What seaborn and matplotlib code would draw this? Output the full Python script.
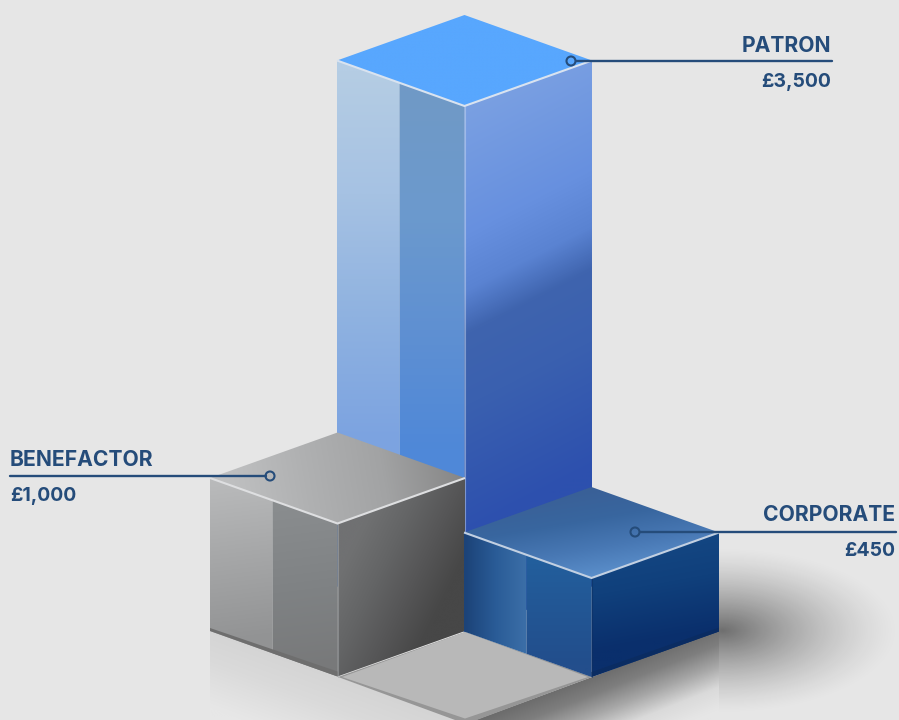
import matplotlib
matplotlib.use('Agg')
import matplotlib.pyplot as plt
from matplotlib.colors import LinearSegmentedColormap
from matplotlib.patches import Polygon
import numpy as np
import seaborn as sns

categories = ['PATRON', 'BENEFACTOR', 'CORPORATE']
values = [3500, 1000, 450]

# the boxes are not to a linear scale, so height comes from this lookup
scale_values = [0, 450, 1000, 3500]
scale_pixels = [0, 99, 153, 526]

BG = '#E6E6E6'
INK = '#254C7A'
HALF_W = 127.5
HALF_D = 45.5


def box_height(value):
    return float(np.interp(value, scale_values, scale_pixels))


def ramp(stops):
    return LinearSegmentedColormap.from_list('ramp', stops)


def grad_fill(ax, pts, stops, start, end, z):
    """Fill a polygon with a linear gradient running from start to end."""
    pts = np.array(pts, dtype=float)
    x0, y0 = np.floor(pts.min(axis=0)) - 1
    x1, y1 = np.ceil(pts.max(axis=0)) + 1
    xs, ys = np.meshgrid(np.arange(x0, x1 + 1), np.arange(y0, y1 + 1))
    d = np.array(end, dtype=float) - np.array(start, dtype=float)
    t = ((xs - start[0]) * d[0] + (ys - start[1]) * d[1]) / (d @ d)
    im = ax.imshow(np.clip(t, 0, 1), cmap=ramp(stops), vmin=0, vmax=1, extent=(x0, x1, y1, y0),
                   origin='upper', aspect='auto', zorder=z, interpolation='bilinear')
    im.set_clip_path(Polygon(pts, transform=ax.transData))


def draw_box(ax, fx, by, value, look, z):
    """fx, by is the front bottom corner of the box."""
    h = box_height(value)
    ty = by - h
    mx = fx - 65
    my = 65 * HALF_D / HALF_W
    left_in = [(mx, ty - my), (fx, ty), (fx, by), (mx, by - my)]
    left_out = [(fx - HALF_W, ty - HALF_D), (mx, ty - my), (mx, by - my), (fx - HALF_W, by - HALF_D)]
    right = [(fx, ty), (fx + HALF_W, ty - HALF_D), (fx + HALF_W, by - HALF_D), (fx, by)]
    top = [(fx, ty), (fx + HALF_W, ty - HALF_D), (fx, ty - 2 * HALF_D), (fx - HALF_W, ty - HALF_D)]

    grad_fill(ax, left_out, look['outer'], *look['outer_dir'], z)
    grad_fill(ax, left_in, look['inner'], *look['inner_dir'], z)
    grad_fill(ax, right, look['right'], *look['right_dir'], z)
    grad_fill(ax, top, look['top'], *look['top_dir'], z)

    # dark lip along the foot of the box
    if look.get('lip_l'):
        ax.add_patch(Polygon([(fx - HALF_W, by - HALF_D - 3), (fx, by - 5), (fx, by), (fx - HALF_W, by - HALF_D)],
                             fc=look['lip_l'], ec='none', zorder=z + 0.1))
    if look.get('lip_r'):
        ax.add_patch(Polygon([(fx, by - 5), (fx + HALF_W, by - HALF_D - 4), (fx + HALF_W, by - HALF_D), (fx, by)],
                             fc=look['lip_r'], ec='none', zorder=z + 0.1))
    ax.plot([fx, fx], [ty, by], color=look['edge'], lw=0.8, alpha=0.5, zorder=z + 0.2)
    ax.plot([fx - HALF_W, fx, fx + HALF_W], [ty - HALF_D, ty, ty - HALF_D], color=look['rim'], lw=1.5,
            solid_joinstyle='miter', solid_capstyle='butt', zorder=z + 0.3)


sns.set_theme(style='white')
plt.rcParams['font.family'] = ['Inter', 'DejaVu Sans']

fig = plt.figure(figsize=(8.99, 7.2), dpi=100, facecolor=BG)
ax = fig.add_axes([0, 0, 1, 1])
ax.set_facecolor(BG)
ax.set_xlim(0, 899)
ax.set_ylim(720, 0)
ax.set_autoscale_on(False)

# floor reflection under the grey box
grad_fill(ax, [(210, 628), (338, 677), (465, 722), (465, 720), (210, 720)],
          ['#D2D2D2', '#DADADA', '#E7E7E7'], (300, 650), (270, 730), 1)

# soft shadow to the right of the blue box
yy, xx = np.mgrid[540:720, 719:899]
r = np.sqrt(((xx - 722) / 178) ** 2 + ((yy - 630) / 84) ** 2)
shade = np.zeros(r.shape + (4,))
shade[..., 3] = 0.52 * np.clip(1 - r, 0, 1) ** 1.4
ax.imshow(shade, extent=(719, 899, 720, 540), origin='upper', aspect='auto', zorder=1)

# shadow below the blue box, cut off at its right corner
grad_fill(ax, [(470, 722), (592, 677), (719, 630), (719, 720)],
          ['#6A6A6A', '#7E7E7E', '#A8A8A8', '#DADADA', '#E6E6E6'], (650, 650), (680, 725), 1)

patron_look = {
    'outer': ['#B5CDE4', '#A6C2E3', '#8FB2E0', '#7CA3E0'], 'outer_dir': ((370, 70), (370, 440)),
    'inner': ['#7099C6', '#6C9ACD', '#5F90D2', '#4F88D8'], 'inner_dir': ((430, 90), (430, 450)),
    'right': [(0, '#7AA0E2'), (0.3, '#6790DF'), (0.43, '#5A83D2'), (0.53, '#3F64AE'), (0.7, '#3A60B0'),
              (1, '#2D50AE')],
    'right_dir': ((465, 106), (639, 447)),
    'top': ['#58A7FE', '#58A7FE'], 'top_dir': ((465, 14), (465, 106)),
    'edge': '#C8D8F0', 'rim': '#D9E3F0',
}
benefactor_look = {
    'outer': ['#B9BABB', '#A5A6A7', '#929394'], 'outer_dir': ((230, 480), (250, 640)),
    'inner': ['#898C8E', '#7F8284', '#78797A'], 'inner_dir': ((290, 510), (310, 670)),
    'right': ['#707172', '#646566', '#565657', '#474747'], 'right_dir': ((345, 560), (440, 607)),
    'top': ['#C0C1C2', '#B0B1B2', '#A2A3A4', '#868686'], 'top_dir': ((225, 490), (460, 450)),
    'edge': '#A9ADB0', 'rim': '#DEDFE1', 'lip_l': '#6E6E6E',
}
corporate_look = {
    'outer': ['#1C4378', '#2A5C97', '#3C6FA8'], 'outer_dir': ((465, 590), (527, 590)),
    'inner': ['#22619F', '#225795', '#234E8C'], 'inner_dir': ((560, 545), (560, 665)),
    'right': ['#154985', '#10407C', '#0A2F6C'], 'right_dir': ((640, 530), (660, 640)),
    'top': ['#3A6097', '#38669F', '#4878B4', '#5C90CC'], 'top_dir': ((585, 490), (600, 578)),
    'edge': '#0E2F60', 'rim': '#C2D0E2', 'lip_r': '#0A2C62',
}

front_corners = {'PATRON': (464.5, 632), 'BENEFACTOR': (337.5, 676.5), 'CORPORATE': (591.5, 677)}
looks = {'PATRON': patron_look, 'BENEFACTOR': benefactor_look, 'CORPORATE': corporate_look}
box_order = {'PATRON': 2, 'BENEFACTOR': 3, 'CORPORATE': 5}

for name, val in zip(categories, values):
    fx, by = front_corners[name]
    draw_box(ax, fx, by, val, looks[name], box_order[name])

# grey floor tile between the two front boxes
ax.add_patch(Polygon([(465, 632), (592, 677), (466, 724), (338, 677)], fc='#969696', ec='none', zorder=4))
ax.add_patch(Polygon([(465, 632), (588, 677), (465, 718.5), (342, 677)], fc='#B8B8B8', ec='none', zorder=4.1))

# leaders and labels
leaders = {'PATRON': (571, 832, 61), 'BENEFACTOR': (270, 10, 476), 'CORPORATE': (635, 896, 532)}
text_spots = {'PATRON': (831, 52, 87, 'right'), 'BENEFACTOR': (10, 466, 501, 'left'),
              'CORPORATE': (895, 521, 556, 'right')}

for name, val in zip(categories, values):
    dot_x, end_x, y = leaders[name]
    start_x = dot_x + 4.5 * np.sign(end_x - dot_x)
    sns.lineplot(x=[start_x, end_x], y=[y, y], color=INK, lw=1.7, ax=ax, zorder=8, legend=False)
    sns.scatterplot(x=[dot_x], y=[y], s=42, facecolor='none', edgecolor=INK, linewidth=1.5, ax=ax, zorder=9,
                    legend=False)
    tx, y1, y2, ha = text_spots[name]
    ax.text(tx, y1, name, color=INK, fontsize=15.2, fontweight='bold', ha=ha, va='baseline', zorder=10)
    ax.text(tx, y2, f'£{val:,}', color=INK, fontsize=14, fontweight='bold', ha=ha, va='baseline', zorder=10)

ax.set_xlim(0, 899)
ax.set_ylim(720, 0)
ax.axis('off')
fig.savefig('out.png', dpi=100, facecolor=BG)
